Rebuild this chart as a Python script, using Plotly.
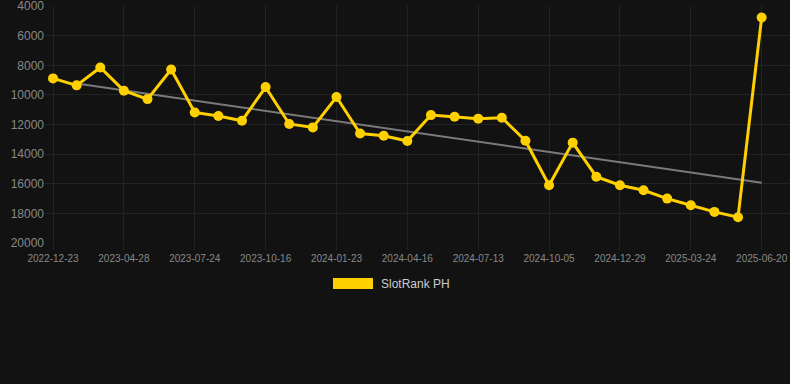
import plotly.graph_objects as go

# ---- data ----
dates = [
    "2022-12-23", "2023-02-03", "2023-03-17",
    "2023-04-28", "2023-05-27", "2023-06-25",
    "2023-07-24", "2023-08-21", "2023-09-18",
    "2023-10-16", "2023-11-18", "2023-12-21",
    "2024-01-23", "2024-02-20", "2024-03-19",
    "2024-04-16", "2024-05-15", "2024-06-14",
    "2024-07-13", "2024-08-10", "2024-09-07",
    "2024-10-05", "2024-11-02", "2024-11-30",
    "2024-12-29", "2025-01-26", "2025-02-23",
    "2025-03-24", "2025-04-23", "2025-05-22",
    "2025-06-20",
]
rank_values = [
    8880, 9350, 8140, 9710, 10280, 8280, 11180, 11420, 11740, 9470,
    11960, 12190, 10140, 12600, 12750, 13110, 11360, 11470, 11600, 11540,
    13090, 16100, 13220, 15520, 16100, 16440, 17000, 17450, 17900, 18260,
    4770,
]
trend_dates = [dates[1], dates[30]]
trend_values = [9220, 15930]
tick_labels = dates[::3]
y_ticks = [4000, 6000, 8000, 10000, 12000, 14000, 16000, 18000, 20000]
y_tick_text = [str(v) for v in y_ticks]
series_name = "SlotRank PH"

GOLD = "#ffd000"
BG = "#121212"
GRID = "#222222"

fig = go.Figure()
fig.add_trace(go.Scatter(
    x=trend_dates, y=trend_values, mode="lines",
    line=dict(color="#7a7a7a", width=2), showlegend=False, hoverinfo="skip",
))
fig.add_trace(go.Scatter(
    x=dates, y=rank_values, mode="lines+markers", name=series_name,
    line=dict(color=GOLD, width=3),
    marker=dict(color=GOLD, size=10),
    showlegend=False,
))

L, R, T, B = 45, 0, 6, 141
W, H = 790, 384
pw = W - L - R
ph = H - T - B

def px_x(px):
    return (px - L) / pw

def px_y(py):
    return (H - B - py) / ph

# legend (swatch + text)
fig.add_shape(type="rect", xref="paper", yref="paper",
              x0=px_x(333), x1=px_x(373), y0=px_y(289), y1=px_y(278),
              fillcolor=GOLD, line=dict(width=0))
fig.add_annotation(xref="paper", yref="paper", x=px_x(379), y=px_y(284),
                   text=series_name, showarrow=False, xanchor="left", yanchor="middle",
                   font=dict(size=12, color="#cccccc", family="Liberation Sans, Arial"))

fig.update_layout(
    width=W, height=H,
    margin=dict(l=L, r=R, t=T, b=B, pad=0),
    paper_bgcolor=BG, plot_bgcolor=BG,
    font=dict(family="Liberation Sans, Arial", color="#888888"),
    showlegend=False,
    xaxis=dict(
        type="category", categoryorder="array", categoryarray=dates,
        range=[-0.34, 31.2], autorange=False, automargin=False,
        tickmode="array", tickvals=tick_labels, ticktext=tick_labels,
        tickangle=0,
        tickfont=dict(size=10, color="#888888"),
        showgrid=True, gridcolor=GRID, gridwidth=1,
        ticks="outside", ticklen=6, tickcolor=GRID,
        zeroline=False, showline=False,
    ),
    yaxis=dict(
        range=[20000, 3990], autorange=False, automargin=False,
        tickmode="array", tickvals=y_ticks, ticktext=y_tick_text,
        tickfont=dict(size=12, color="#888888"),
        ticklabeloverflow="allow",
        showgrid=True, gridcolor=GRID, gridwidth=1,
        zeroline=False, showline=False, ticks="",
    ),
)

fig.write_html(
    "out.html",
    config={"displayModeBar": False},
    post_script="document.body.style.margin='0';document.body.style.background='#121212';",
)
